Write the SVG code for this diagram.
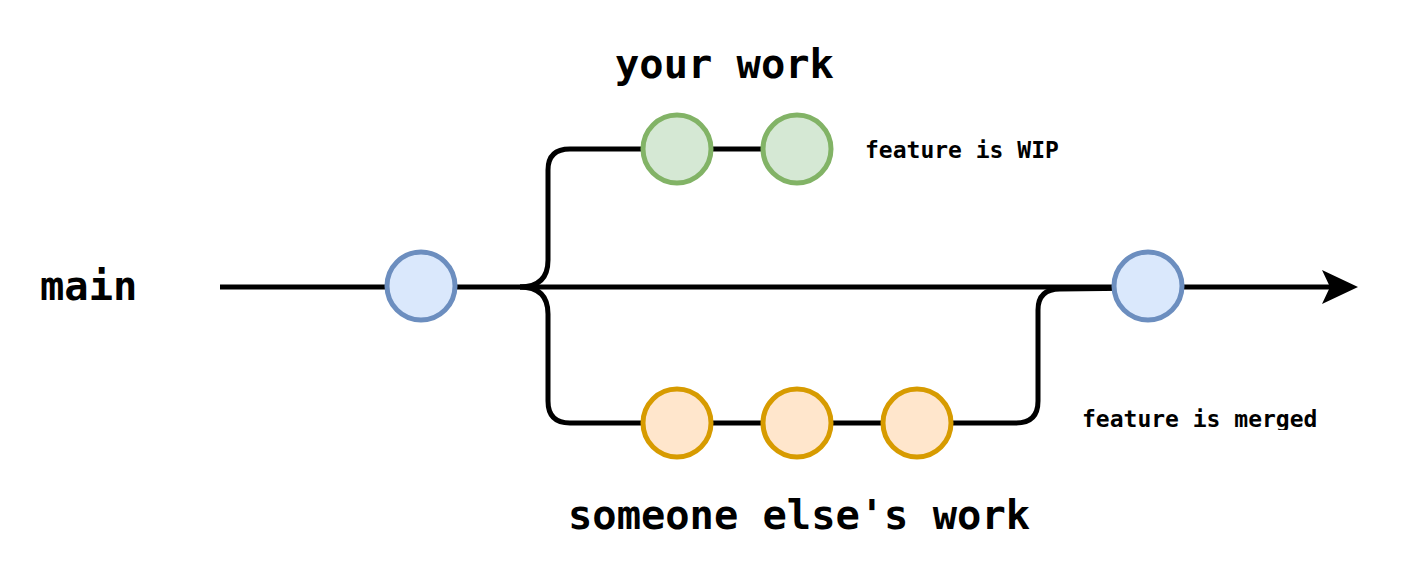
<svg xmlns="http://www.w3.org/2000/svg" width="1418" height="581" viewBox="0 0 1418 581">
<style>
.ln{fill:none;stroke:#000;stroke-width:5}
.blue{fill:#dae8fc;stroke:#6c8ebf;stroke-width:5}
.green{fill:#d5e8d4;stroke:#82b366;stroke-width:5}
.orange{fill:#ffe6cc;stroke:#d79b00;stroke-width:5}
.big{font-family:"DejaVu Sans Mono",monospace;font-weight:bold;font-size:40.4px;fill:#000}
.small{font-family:"DejaVu Sans Mono",monospace;font-weight:bold;font-size:23px;fill:#000}
</style>
<defs>
<marker id="arr" markerUnits="userSpaceOnUse" markerWidth="40" markerHeight="40" refX="18" refY="17" orient="auto">
<path d="M0,0 L36,17 L0,34 L8,17 Z" fill="#000"/>
</marker>
<clipPath id="clipm"><rect x="1070" y="395" width="280" height="35"/></clipPath>
</defs>
<g id="connectors">
<path class="ln" d="M220,287 L1340,287" marker-end="url(#arr)"/>
<path class="ln" d="M520,287 Q548,287 548,260 L548,170 Q548,149 570,149 L797,149"/>
<path class="ln" d="M520,287 Q548,287 548,314 L548,401 Q548,423 570,423 L917,423"/>
<path class="ln" d="M917,423 L1016,423 Q1038,423 1038,401 L1038,310 Q1038,289 1060,289 L1148,288"/>
</g>
<g id="n-main-1"><circle class="blue" cx="421" cy="286" r="34"/></g>
<g id="n-main-2"><circle class="blue" cx="1148" cy="286" r="34"/></g>
<g id="n-green-1"><circle class="green" cx="677" cy="149" r="34"/></g>
<g id="n-green-2"><circle class="green" cx="797" cy="149" r="34"/></g>
<g id="n-orange-1"><circle class="orange" cx="677" cy="423" r="34"/></g>
<g id="n-orange-2"><circle class="orange" cx="797" cy="423" r="34"/></g>
<g id="n-orange-3"><circle class="orange" cx="917" cy="423" r="34"/></g>
<g id="labels">
<text class="big" x="40" y="300">main</text>
<text class="big" x="615" y="78">your work</text>
<text class="big" x="568" y="529">someone else's work</text>
<text class="small" x="865" y="158">feature is WIP</text>
<text class="small" x="1082" y="427" clip-path="url(#clipm)">feature is merged</text>
</g>
</svg>
